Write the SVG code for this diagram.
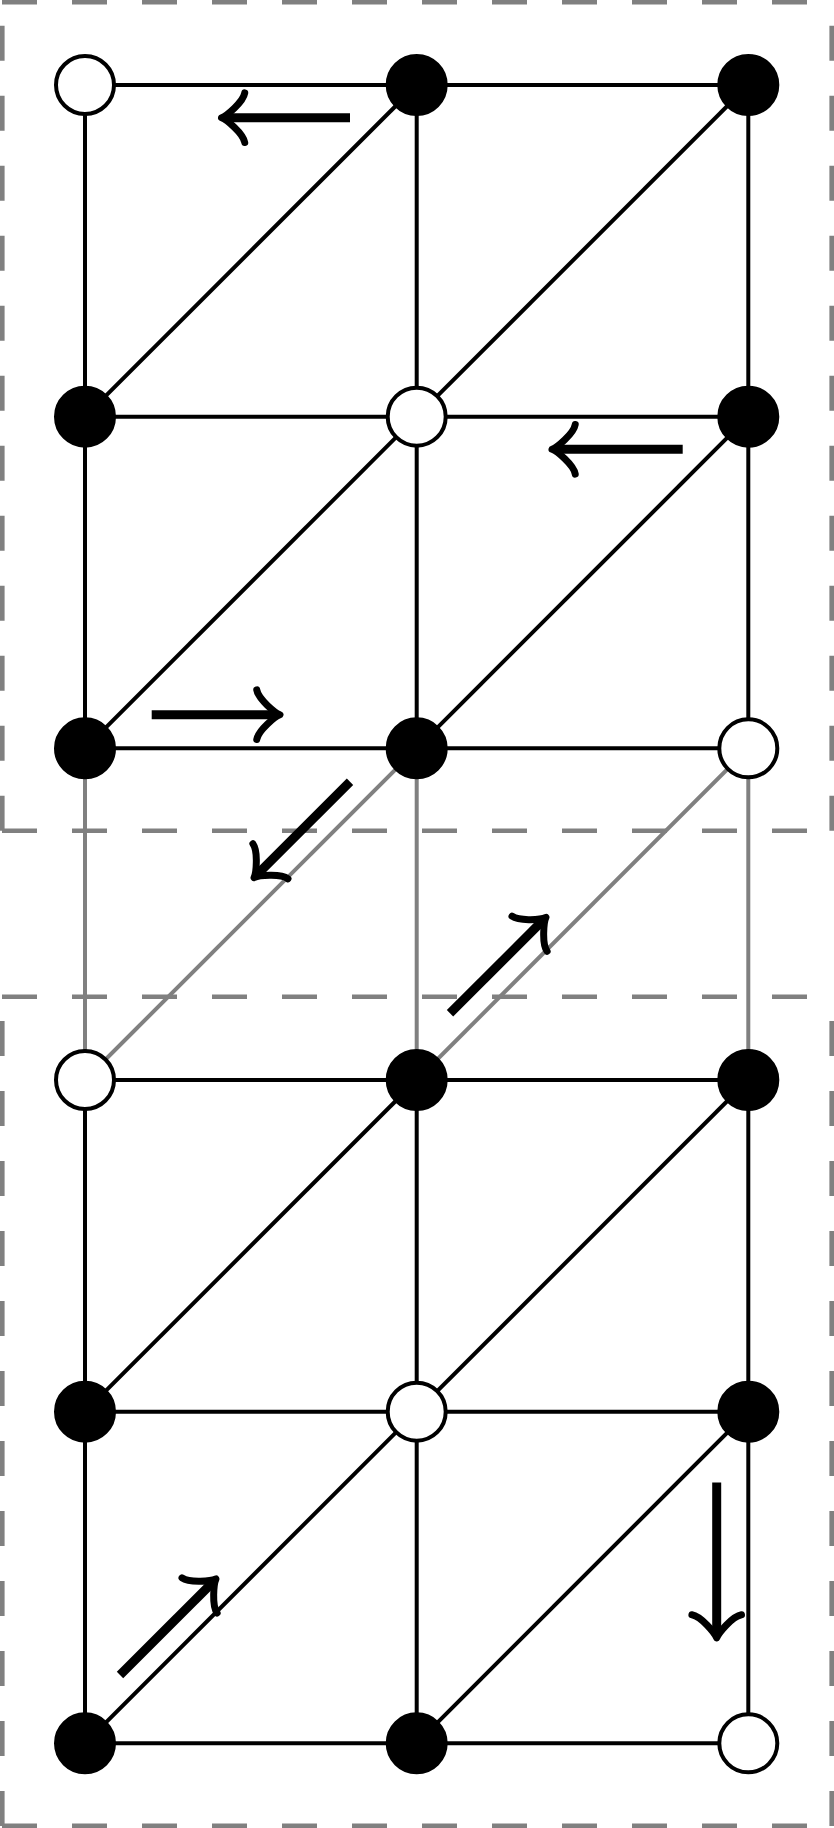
<svg xmlns="http://www.w3.org/2000/svg" width="834" height="1828" viewBox="0 0 834 1828">
<style>
.frame{stroke:#808080;stroke-width:4.6;stroke-dasharray:35 35;fill:none}
.edge{stroke:#000;stroke-width:4;fill:none}
.ghost{stroke:#808080;stroke-width:4;fill:none}
.full{fill:#000;stroke:#000;stroke-width:4}
.empty{fill:#fff;stroke:#000;stroke-width:4}
.shaft{stroke:#000;stroke-width:9;fill:none}
.head{stroke:#000;stroke-width:7;fill:none;stroke-linecap:round;stroke-linejoin:round}
</style>
<defs>
<path id="ah" class="head" d="M -23.25,-24.8 C -21.7,-15.5 -4.65,-1.55 0,0 C -4.65,1.55 -21.7,15.5 -23.25,24.8"/>
</defs>
<rect width="834" height="1828" fill="#fff"/>
<g id="frames">
<line class="frame" x1="2" y1="2.3" x2="832" y2="2.3"/>
<line class="frame" x1="2" y1="830.7" x2="832" y2="830.7"/>
<line class="frame" x1="2.3" y1="830.7" x2="2.3" y2="0"/>
<line class="frame" x1="831.7" y1="830.7" x2="831.7" y2="0"/>
<line class="frame" x1="2" y1="996.7" x2="832" y2="996.7"/>
<line class="frame" x1="2" y1="1825.7" x2="832" y2="1825.7"/>
<line class="frame" x1="2.3" y1="1826" x2="2.3" y2="996.7"/>
<line class="frame" x1="831.7" y1="1826" x2="831.7" y2="996.7"/>
</g>
<g id="connectors">
<line class="edge" x1="85" y1="85" x2="748.3" y2="85"/>
<line class="edge" x1="85" y1="416.7" x2="748.3" y2="416.7"/>
<line class="edge" x1="85" y1="748.3" x2="748.3" y2="748.3"/>
<line class="edge" x1="85" y1="85" x2="85" y2="748.3"/>
<line class="edge" x1="416.7" y1="85" x2="416.7" y2="748.3"/>
<line class="edge" x1="748.3" y1="85" x2="748.3" y2="748.3"/>
<line class="edge" x1="85" y1="416.7" x2="416.7" y2="85"/>
<line class="edge" x1="416.7" y1="416.7" x2="748.3" y2="85"/>
<line class="edge" x1="85" y1="748.3" x2="416.7" y2="416.7"/>
<line class="edge" x1="416.7" y1="748.3" x2="748.3" y2="416.7"/>
<line class="ghost" x1="85" y1="748.3" x2="85" y2="1080"/>
<line class="ghost" x1="416.7" y1="748.3" x2="416.7" y2="1080"/>
<line class="ghost" x1="748.3" y1="748.3" x2="748.3" y2="1080"/>
<line class="ghost" x1="85" y1="1080" x2="416.7" y2="748.3"/>
<line class="ghost" x1="416.7" y1="1080" x2="748.3" y2="748.3"/>
<line class="edge" x1="85" y1="1080" x2="748.3" y2="1080"/>
<line class="edge" x1="85" y1="1411.7" x2="748.3" y2="1411.7"/>
<line class="edge" x1="85" y1="1743.3" x2="748.3" y2="1743.3"/>
<line class="edge" x1="85" y1="1080" x2="85" y2="1743.3"/>
<line class="edge" x1="416.7" y1="1080" x2="416.7" y2="1743.3"/>
<line class="edge" x1="748.3" y1="1080" x2="748.3" y2="1743.3"/>
<line class="edge" x1="85" y1="1411.7" x2="416.7" y2="1080"/>
<line class="edge" x1="416.7" y1="1411.7" x2="748.3" y2="1080"/>
<line class="edge" x1="85" y1="1743.3" x2="416.7" y2="1411.7"/>
<line class="edge" x1="416.7" y1="1743.3" x2="748.3" y2="1411.7"/>
</g>
<g id="arrows">
<line class="shaft" x1="350" y1="117.7" x2="227.5" y2="117.7"/>
<use href="#ah" transform="translate(221.5,117.7) rotate(180)"/>
<line class="shaft" x1="682.7" y1="449.3" x2="558" y2="449.3"/>
<use href="#ah" transform="translate(552,449.3) rotate(180)"/>
<line class="shaft" x1="151.7" y1="714.7" x2="274" y2="714.7"/>
<use href="#ah" transform="translate(280,714.7)"/>
<line class="shaft" x1="350" y1="781.7" x2="258.2" y2="873.5"/>
<use href="#ah" transform="translate(254,877.7) rotate(135)"/>
<line class="shaft" x1="450" y1="1013.3" x2="541.8" y2="921.5"/>
<use href="#ah" transform="translate(546,917.3) rotate(-45)"/>
<line class="shaft" x1="120" y1="1675" x2="211.8" y2="1583.2"/>
<use href="#ah" transform="translate(216,1579) rotate(-45)"/>
<line class="shaft" x1="716.7" y1="1482.5" x2="716.7" y2="1632"/>
<use href="#ah" transform="translate(716.7,1638) rotate(90)"/>
</g>
<g id="n11"><circle class="empty" cx="85" cy="85" r="29"/></g>
<g id="n12"><circle class="full" cx="416.7" cy="85" r="29"/></g>
<g id="n13"><circle class="full" cx="748.3" cy="85" r="29"/></g>
<g id="n21"><circle class="full" cx="85" cy="416.7" r="29"/></g>
<g id="n22"><circle class="empty" cx="416.7" cy="416.7" r="29"/></g>
<g id="n23"><circle class="full" cx="748.3" cy="416.7" r="29"/></g>
<g id="n31"><circle class="full" cx="85" cy="748.3" r="29"/></g>
<g id="n32"><circle class="full" cx="416.7" cy="748.3" r="29"/></g>
<g id="n33"><circle class="empty" cx="748.3" cy="748.3" r="29"/></g>
<g id="n41"><circle class="empty" cx="85" cy="1080" r="29"/></g>
<g id="n42"><circle class="full" cx="416.7" cy="1080" r="29"/></g>
<g id="n43"><circle class="full" cx="748.3" cy="1080" r="29"/></g>
<g id="n51"><circle class="full" cx="85" cy="1411.7" r="29"/></g>
<g id="n52"><circle class="empty" cx="416.7" cy="1411.7" r="29"/></g>
<g id="n53"><circle class="full" cx="748.3" cy="1411.7" r="29"/></g>
<g id="n61"><circle class="full" cx="85" cy="1743.3" r="29"/></g>
<g id="n62"><circle class="full" cx="416.7" cy="1743.3" r="29"/></g>
<g id="n63"><circle class="empty" cx="748.3" cy="1743.3" r="29"/></g>
</svg>
